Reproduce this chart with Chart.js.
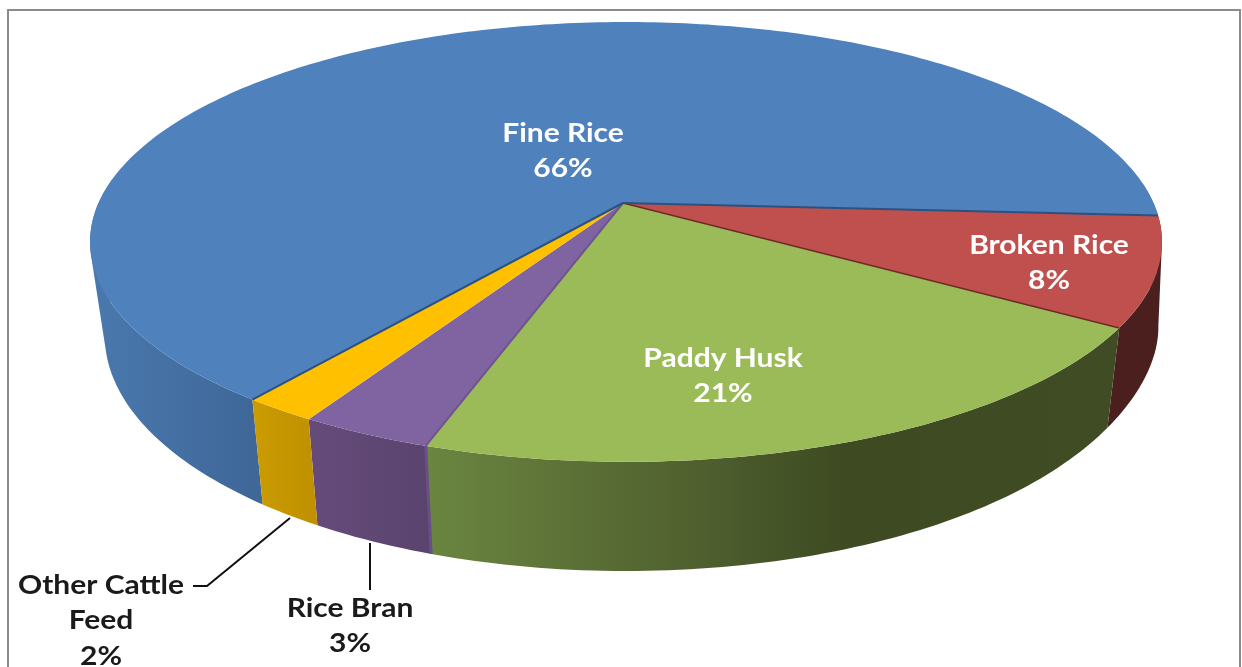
<!DOCTYPE html>
<html>
<head>
<meta charset="utf-8">
<title>Rice milling output</title>
<script src="https://cdn.jsdelivr.net/npm/chart.js@4"></script>
<style>
    html, body { margin: 0; padding: 0; background: #ffffff; overflow: hidden; }
    canvas { display: block; }
</style>
</head>
<body>
<canvas id="riceChart" width="1242" height="667"></canvas>
<script>
// data, printed labels are these rounded
const categories = ['Fine Rice', 'Broken Rice', 'Paddy Husk', 'Rice Bran', 'Other Cattle Feed'];
const shares = [65.5, 8.0, 21.2, 3.4, 1.9];
const labelLines = [['Fine Rice'], ['Broken Rice'], ['Paddy Husk'], ['Rice Bran'], ['Other Cattle', 'Feed']];

// office palette
const topColors = ['#4f81bd', '#c0504d', '#9bbb59', '#8064a2', '#ffc000'];
const edgeColors = ['#2b5180', '#6e2a28', '#7f9c4a', '#6f5490', '#e0a900'];
const sideStops = [
    [[90, '#4a78ae'], [250, '#3f6899']],
    [[1100, '#4a1f1d'], [1165, '#4a1f1d']],
    [[430, '#6a8540'], [700, '#4f5f2e'], [850, '#3d4a22'], [1110, '#3f4c24']],
    [[310, '#664b7a'], [430, '#59446e']],
    [[255, '#cb9b00'], [318, '#bf9000']]
];

// where each label sits, first line centre
const labelSpots = [[563, 133], [1049, 245], [723, 358], [350, 608], [101, 585]];
const labelInside = [true, true, true, false, false];
const leaderLines = [
    [[290, 518], [207, 586], [193, 586]],
    [[370, 543], [370, 590]]
];

// perspective of the disc, fitted to the picture
const PERSP = 0.177;
const topDisc = { y0: 203, a: 213, b: 527.5, bulge: 0 };
const bottomDisc = { y0: 294, a: 228, b: 513, bulge: 13 };
const CENTER_X = 623;

function project(disc, angle, radius) {
    const u = Math.cos(angle) * radius;
    const v = Math.sin(angle) * radius;
    const w = 1 - PERSP * v;
    // the lower edge reaches a bit further out on the right
    const extra = u > 0 ? disc.bulge * Math.pow(u, 12) : 0;
    return {
        x: CENTER_X + disc.b * u / w + 3 * radius * radius + extra,
        y: disc.y0 + disc.a * v / w
    };
}

function sideGradient(ctx, stops) {
    const grad = ctx.createLinearGradient(0, 0, 1242, 0);
    stops.forEach(s => grad.addColorStop(s[0] / 1242, s[1]));
    return grad;
}

function drawRim(ctx, arc, stops) {
    const step = Math.PI / 180;
    ctx.fillStyle = sideGradient(ctx, stops);
    // one quad per degree in a single path, all wound the same way,
    // so the wall fills the silhouette without seams
    ctx.beginPath();
    for (let a = arc.startAngle; a < arc.endAngle; a += step) {
        const next = Math.min(a + step, arc.endAngle);
        // back of the wheel is never seen
        if (Math.sin(a) < -0.1) continue;
        const quad = [
            project(topDisc, a, 1),
            project(topDisc, next, 1),
            project(bottomDisc, next, 1),
            project(bottomDisc, a, 1)
        ];
        let area = 0;
        quad.forEach((p, i) => {
            const q = quad[(i + 1) % 4];
            area += p.x * q.y - q.x * p.y;
        });
        if (area < 0) quad.reverse();
        quad.forEach((p, i) => {
            if (i === 0) ctx.moveTo(p.x, p.y); else ctx.lineTo(p.x, p.y);
        });
        ctx.closePath();
    }
    ctx.fill();
}

function drawTop(ctx, arc, color) {
    const step = Math.PI / 180;
    const apex = project(topDisc, 0, 0);
    ctx.beginPath();
    ctx.moveTo(apex.x, apex.y);
    for (let a = arc.startAngle; a < arc.endAngle; a += step) {
        const p = project(topDisc, a, 1);
        ctx.lineTo(p.x, p.y);
    }
    const last = project(topDisc, arc.endAngle, 1);
    ctx.lineTo(last.x, last.y);
    ctx.closePath();
    ctx.fillStyle = color;
    ctx.fill();
}

function drawSpoke(ctx, angle, color, width) {
    const apex = project(topDisc, 0, 0);
    const p = project(topDisc, angle, 1);
    ctx.beginPath();
    ctx.moveTo(apex.x, apex.y);
    ctx.lineTo(p.x, p.y);
    ctx.strokeStyle = color;
    ctx.lineWidth = width;
    ctx.stroke();
}

// draws the pie arcs in perspective with a rim, angles come from the library
const perspectivePie = {
    id: 'perspectivePie',
    beforeDraw(chart) {
        const ctx = chart.ctx;
        ctx.save();
        ctx.fillStyle = '#ffffff';
        ctx.fillRect(0, 0, 1242, 667);
        ctx.strokeStyle = '#8c8c8c';
        ctx.lineWidth = 2;
        ctx.strokeRect(8, 10, 1232, 700);
        ctx.restore();
    },
    beforeDatasetsDraw(chart) {
        const ctx = chart.ctx;
        const arcs = chart.getDatasetMeta(0).data;
        ctx.save();

        arcs.forEach((arc, i) => drawRim(ctx, arc, sideStops[i]));
        arcs.forEach((arc, i) => drawTop(ctx, arc, topColors[i]));

        // thin strip of purple on the green wall edge
        const greenEnd = arcs[2].endAngle;
        const a = project(topDisc, greenEnd, 1);
        const b = project(bottomDisc, greenEnd, 1);
        ctx.beginPath();
        ctx.moveTo(a.x, a.y);
        ctx.lineTo(b.x, b.y);
        ctx.strokeStyle = '#6a4f85';
        ctx.lineWidth = 3;
        ctx.stroke();

        // slice edges
        drawSpoke(ctx, arcs[1].endAngle, edgeColors[1], 1.5);
        drawSpoke(ctx, arcs[2].endAngle, edgeColors[3], 2);
        drawSpoke(ctx, arcs[0].startAngle, edgeColors[0], 2);
        drawSpoke(ctx, arcs[0].endAngle, edgeColors[0], 2);

        // leader lines
        ctx.strokeStyle = '#111111';
        ctx.lineWidth = 2;
        leaderLines.forEach(line => {
            ctx.beginPath();
            line.forEach((p, i) => {
                if (i === 0) ctx.moveTo(p[0], p[1]); else ctx.lineTo(p[0], p[1]);
            });
            ctx.stroke();
        });

        // labels, the picture's type is stretched sideways
        ctx.font = '700 27px Lato';
        ctx.textAlign = 'center';
        ctx.textBaseline = 'middle';
        shares.forEach((value, i) => {
            ctx.fillStyle = labelInside[i] ? '#ffffff' : '#1a1a1a';
            const lines = labelLines[i].concat(Math.round(value) + '%');
            lines.forEach((text, n) => {
                ctx.save();
                ctx.translate(labelSpots[i][0], labelSpots[i][1] + n * 35.5);
                ctx.scale(1.11, 1);
                ctx.fillText(text, 0, 0);
                ctx.restore();
            });
        });

        ctx.restore();
        return false;
    }
};

new Chart(document.getElementById('riceChart'), {
    type: 'pie',
    data: {
        labels: categories,
        datasets: [{
            data: shares,
            backgroundColor: topColors,
            borderWidth: 0
        }]
    },
    options: {
        responsive: false,
        animation: false,
        rotation: 217.5,
        plugins: {
            legend: { display: false },
            tooltip: { enabled: false }
        }
    },
    plugins: [perspectivePie]
});
</script>
</body>
</html>
